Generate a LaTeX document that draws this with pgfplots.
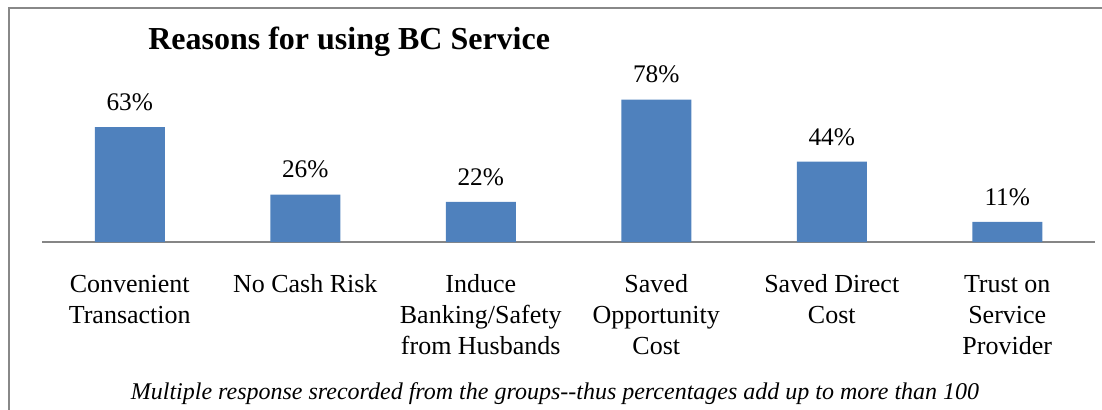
\documentclass[border=0pt]{standalone}
\usepackage{pgfplots}
\pgfplotsset{compat=1.18}
\usepackage{fontspec}
\setmainfont{Liberation Serif}
\definecolor{barblue}{HTML}{4F81BD}
\definecolor{framegray}{HTML}{888888}
\definecolor{axisgray}{HTML}{868686}
\begin{document}
\begin{tikzpicture}
\path[use as bounding box] (0,0) rectangle (826.5pt,-307.5pt);
\draw[framegray, line width=1.5pt] (6.75pt,-320pt) -- (6.75pt,-6pt) -- (840pt,-6pt);
\begin{axis}[
  at={(31.5pt,-181.5pt)}, anchor=south west,
  scale only axis,
  width=789.75pt, height=136.875pt,
  xmin=-0.5, xmax=5.5, ymin=0, ymax=100,
  enlargelimits=false,
  axis x line=bottom, axis y line=none,
  x axis line style={-, draw=axisgray, line width=1.3pt},
  xtick={0,1,2,3,4,5},
  major tick length=0pt,
  xticklabels={{\strut Convenient\\Transaction},{\strut No Cash Risk},{\strut Induce\\Banking/Safety\\from Husbands},{\strut Saved\\Opportunity\\Cost},{\strut Saved Direct\\Cost},{\strut Trust on\\Service\\Provider}},
  xticklabel style={anchor=north, inner sep=0pt, yshift=-21.4pt, align=center, font=\fontsize{19.5}{23.25}\selectfont},
  clip=false,
  /pgf/number format/assume math mode=true,
  nodes near coords={\pgfmathprintnumber{\pgfplotspointmeta}\%},
  every node near coord/.append style={anchor=base, inner sep=0pt, yshift=12.5pt, font=\fontsize{19}{23}\selectfont, text=black},
]
\addplot[ybar, bar width=52.5pt, fill=barblue, draw=none] coordinates {(0,63) (1,26) (2,22) (3,78) (4,44) (5,11)};
\end{axis}
\node[anchor=base west, inner sep=0pt, font=\fontsize{24}{28}\selectfont\bfseries] at (111pt,-37.5pt) {Reasons for using BC Service};
\node[anchor=base, inner sep=0pt, font=\fontsize{18}{22}\selectfont\itshape] at (416.25pt,-299.25pt) {Multiple response srecorded from the groups{-}{-}thus percentages add up to more than 100};
\end{tikzpicture}
\end{document}
